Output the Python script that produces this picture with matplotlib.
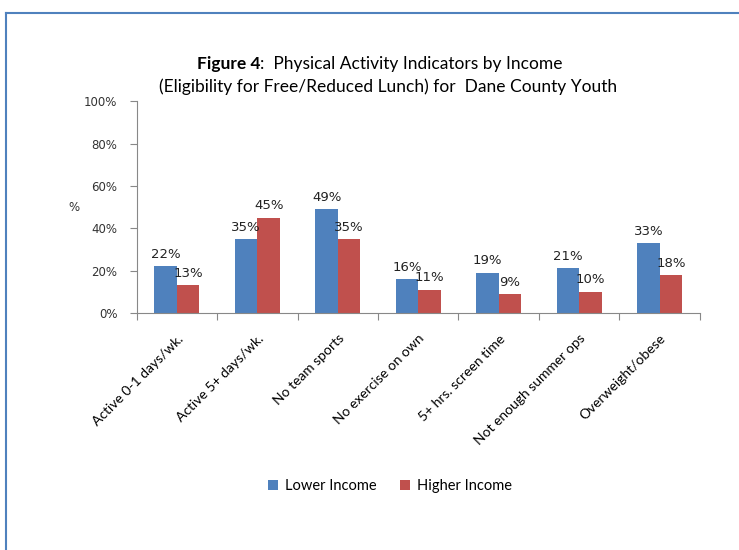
import numpy as np
import matplotlib.pyplot as plt
from matplotlib.lines import Line2D

# Datos
categories = ["Active 0-1 days/wk.", "Active 5+ days/wk.", "No team sports",
              "No exercise on own", "5+ hrs. screen time", "Not enough summer ops",
              "Overweight/obese"]
lower_income = [22, 35, 49, 16, 19, 21, 33]
higher_income = [13, 45, 35, 11, 9, 10, 18]
y_ticks = [0, 20, 40, 60, 80, 100]

blue = "#4F81BD"
red = "#C0504D"

fig = plt.figure(figsize=(7.39, 5.5), dpi=100)
ax = fig.add_axes([0.185, 0.431, 0.762, 0.385])

x = np.arange(len(categories))
w = 0.28
ax.bar(x - w / 2, lower_income, w, color=blue, label="Lower Income")
ax.bar(x + w / 2, higher_income, w, color=red, label="Higher Income")

# Etiquetas de datos
for xi, v in zip(x, lower_income):
    ax.text(xi - w / 2, v + 2.5, f"{v}%", ha="center", va="bottom",
            fontsize=9.5, family="DejaVu Sans", color="#222222")
for xi, v in zip(x, higher_income):
    ax.text(xi + w / 2, v + 2.5, f"{v}%", ha="center", va="bottom",
            fontsize=9.5, family="DejaVu Sans", color="#222222")

ax.set_xlim(-0.5, len(categories) - 0.5)
ax.set_ylim(0, 100)
ax.set_yticks(y_ticks)
ax.set_yticklabels([f"{t}%" for t in y_ticks], fontsize=8.5, family="DejaVu Sans",
                   color="#333333")
ax.tick_params(axis="y", length=5, color="#888888", pad=9)

# Ticks en los límites de categoría
ax.set_xticks(np.arange(len(categories) + 1) - 0.5)
ax.set_xticklabels([])
ax.set_xticks(x, minor=True)
ax.set_xticklabels(categories, minor=True, rotation=45, ha="right",
                   rotation_mode="anchor", fontsize=10, family="Lato")
ax.tick_params(axis="x", which="major", length=5, color="#888888")
ax.tick_params(axis="x", which="minor", length=0, pad=14)

for s in ["top", "right"]:
    ax.spines[s].set_visible(False)
for s in ["left", "bottom"]:
    ax.spines[s].set_color("#888888")

fig.text(0.100, 0.623, "%", fontsize=8.5, family="DejaVu Sans", ha="center",
         va="center", color="#333333")

fig.text(0.352, 0.883, "Figure 4", fontsize=12.5, family="Lato", fontweight="bold",
         ha="right", va="center")
fig.text(0.352, 0.883, ":  Physical Activity Indicators by Income", fontsize=12.5,
         family="Lato", ha="left", va="center")
fig.text(0.525, 0.842, "(Eligibility for Free/Reduced Lunch) for  Dane County Youth",
         fontsize=12.5, family="Lato", ha="center", va="center")

fig.legend(loc="center", bbox_to_anchor=(0.528, 0.116), ncol=2, frameon=False,
           prop={"family": "Lato", "size": 10.5}, handlelength=0.65,
           handleheight=0.65, columnspacing=1.6, handletextpad=0.5)

# Borde del gráfico
fig.add_artist(Line2D([0.008, 0.008], [0, 0.977], color="#4F81BD", lw=1.5))
fig.add_artist(Line2D([0.008, 1.0], [0.977, 0.977], color="#4F81BD", lw=1.5))

fig.savefig("out.png", dpi=100)
